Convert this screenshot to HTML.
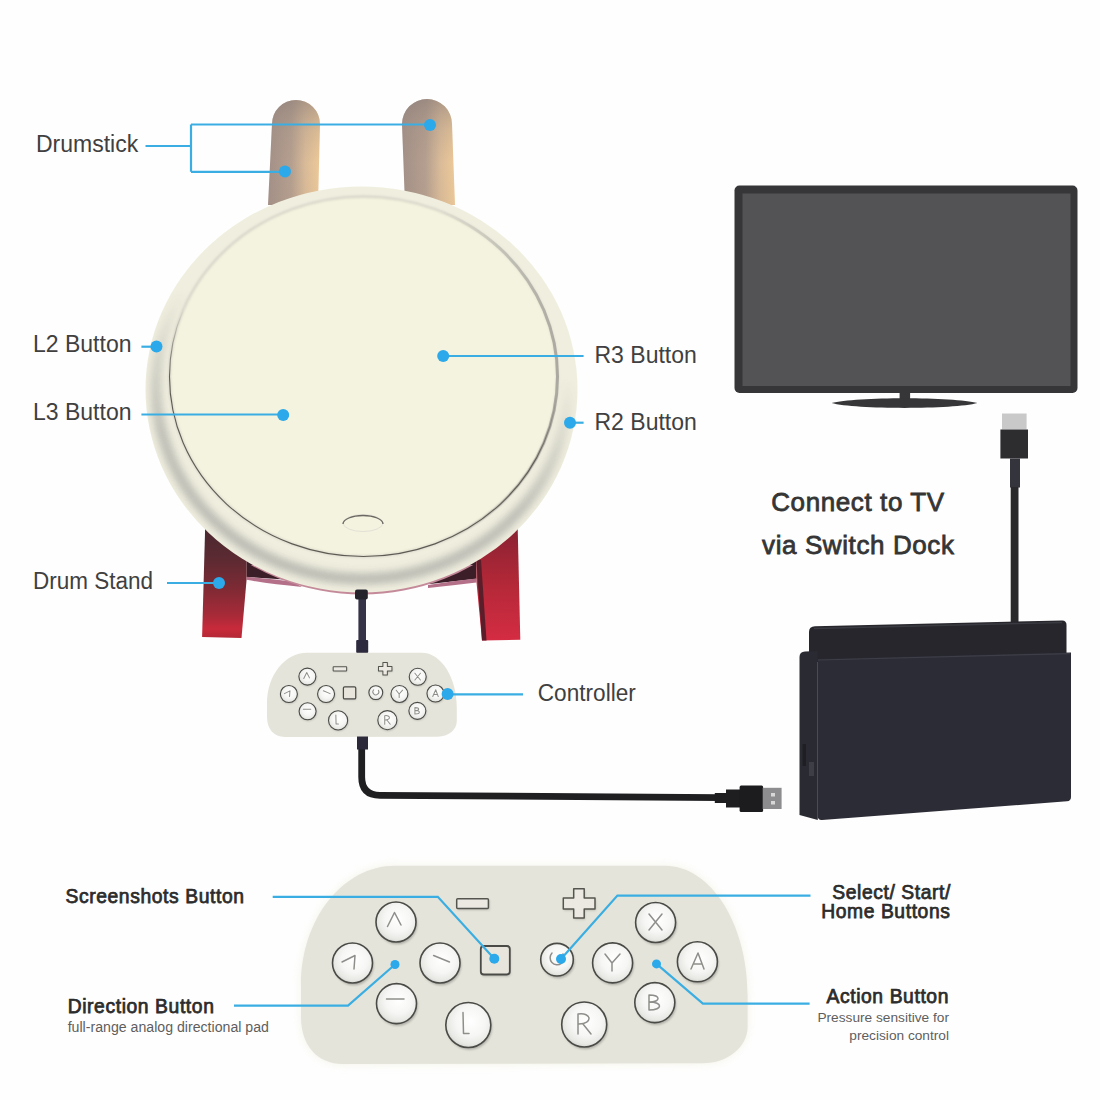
<!DOCTYPE html>
<html><head><meta charset="utf-8">
<style>
html,body{margin:0;padding:0;background:#fefefe;width:1100px;height:1100px;overflow:hidden}
svg{display:block}
text{font-family:"Liberation Sans",sans-serif}
</style></head><body>
<svg width="1100" height="1100" viewBox="0 0 1100 1100">
<defs>
  <linearGradient id="stick" x1="0" x2="1" y1="0" y2="0">
    <stop offset="0" stop-color="#a39088"/>
    <stop offset="0.45" stop-color="#b6a090"/>
    <stop offset="0.72" stop-color="#dcbd9a"/>
    <stop offset="1" stop-color="#f2cd9a"/>
  </linearGradient>
  <linearGradient id="standL" x1="0" x2="0" y1="525" y2="638" gradientUnits="userSpaceOnUse">
    <stop offset="0" stop-color="#4a2430"/>
    <stop offset="0.35" stop-color="#6e2a36"/>
    <stop offset="0.7" stop-color="#a82a3a"/>
    <stop offset="1" stop-color="#d02a40"/>
  </linearGradient>
  <linearGradient id="standR" x1="0" x2="0" y1="530" y2="640" gradientUnits="userSpaceOnUse">
    <stop offset="0" stop-color="#8a2434"/>
    <stop offset="0.5" stop-color="#b02838"/>
    <stop offset="1" stop-color="#d42c42"/>
  </linearGradient>
  <clipPath id="outerClip"><ellipse cx="361.5" cy="389.5" rx="216" ry="203"/></clipPath>
  <filter id="blur4" x="-20%" y="-20%" width="140%" height="140%"><feGaussianBlur stdDeviation="4"/></filter>
  <filter id="blur2" x="-20%" y="-20%" width="140%" height="140%"><feGaussianBlur stdDeviation="1.5"/></filter>
  <filter id="blur1" x="-30%" y="-30%" width="160%" height="160%"><feGaussianBlur stdDeviation="1"/></filter>
  <filter id="blurS" x="-30%" y="-30%" width="160%" height="160%"><feGaussianBlur stdDeviation="0.5"/></filter>
  <linearGradient id="shadeGrad" x1="250" y1="600" x2="330" y2="250" gradientUnits="userSpaceOnUse">
    <stop offset="0" stop-color="#fff"/>
    <stop offset="0.4" stop-color="#e6e6e6"/>
    <stop offset="0.6" stop-color="#808080"/>
    <stop offset="0.8" stop-color="#000"/>
  </linearGradient>
  <linearGradient id="darkLineGrad" x1="250" y1="600" x2="330" y2="250" gradientUnits="userSpaceOnUse">
    <stop offset="0" stop-color="#fff"/>
    <stop offset="0.55" stop-color="#fff"/>
    <stop offset="0.75" stop-color="#000"/>
  </linearGradient>
  <mask id="darkLineMask" maskUnits="userSpaceOnUse" x="0" y="0" width="1100" height="1100">
    <rect x="0" y="0" width="1100" height="1100" fill="url(#darkLineGrad)"/>
  </mask>
  <linearGradient id="rightLineGrad" x1="440" y1="0" x2="560" y2="0" gradientUnits="userSpaceOnUse">
    <stop offset="0" stop-color="#aaa8a0" stop-opacity="0"/>
    <stop offset="1" stop-color="#aaa8a0" stop-opacity="1"/>
  </linearGradient>
  <mask id="shadeMask" maskUnits="userSpaceOnUse" x="0" y="0" width="1100" height="1100">
    <rect x="0" y="0" width="1100" height="1100" fill="url(#shadeGrad)"/>
  </mask>
  <radialGradient id="btnFill" cx="0.55" cy="0.42" r="0.6">
    <stop offset="0" stop-color="#ffffff"/>
    <stop offset="0.55" stop-color="#f6f6f4"/>
    <stop offset="0.85" stop-color="#e8e8e5"/>
    <stop offset="1" stop-color="#d4d4d0"/>
  </radialGradient>
</defs>

<defs>
  <linearGradient id="stickTop" x1="0" x2="0" y1="0" y2="1">
    <stop offset="0" stop-color="#8a7c78" stop-opacity="0.6"/>
    <stop offset="0.3" stop-color="#9a8a80" stop-opacity="0.25"/>
    <stop offset="0.6" stop-color="#a08c7a" stop-opacity="0.05"/>
    <stop offset="1" stop-color="#a08c7a" stop-opacity="0.1"/>
  </linearGradient>
</defs>
<path d="M268,205 L272,124 A24,24 0 0 1 320,124 L318,205 Z" fill="url(#stick)"/>
<path d="M268,205 L272,124 A24,24 0 0 1 320,124 L318,205 Z" fill="url(#stickTop)"/>
<path d="M405,205 L402,124 A25,25 0 0 1 452,124 L455,205 Z" fill="url(#stick)"/>
<path d="M405,205 L402,124 A25,25 0 0 1 452,124 L455,205 Z" fill="url(#stickTop)"/>

<defs>
  <linearGradient id="standL2" x1="0" x2="0" y1="525" y2="638" gradientUnits="userSpaceOnUse">
    <stop offset="0" stop-color="#48282e"/>
    <stop offset="0.3" stop-color="#5c2a32"/>
    <stop offset="0.55" stop-color="#7c2a34"/>
    <stop offset="0.8" stop-color="#a82a38"/>
    <stop offset="0.92" stop-color="#c82a3a"/>
    <stop offset="1" stop-color="#b42836"/>
  </linearGradient>
  <linearGradient id="standR2" x1="0" x2="0" y1="530" y2="640" gradientUnits="userSpaceOnUse">
    <stop offset="0" stop-color="#8a2232"/>
    <stop offset="0.5" stop-color="#b42838"/>
    <stop offset="1" stop-color="#d42c42"/>
  </linearGradient>
</defs>
<path d="M225,520 L300,555 L292,580 L246.6,577 L246.6,545 Z" fill="#3c1e28"/>
<path d="M205.3,522 L246.6,540 L246.6,579.4 L241.5,638 L202.1,637 Z" fill="url(#standL2)"/>
<path d="M246.6,576.8 Q268,578.5 292,581.5 L302,587 Q270,584 246.6,579.8 Z" fill="#b47088"/>
<path d="M420,560 L476.4,550 L476.4,578.7 L430,584 Z" fill="#3c1e28"/>
<path d="M476.4,540 L517.7,528 L520.3,639.8 L482,640.5 L476.4,581 Z" fill="url(#standR2)"/>
<path d="M476.4,560 L482,640.5 L486.5,640.5 L481,560 Z" fill="#5a1e2a"/>
<path d="M428,585 Q452,581 476.4,578.5 L476.4,582.5 Q452,585.5 428,588 Z" fill="#b47088"/>
<clipPath id="pinkClip"><rect x="240" y="565" width="250" height="40"/></clipPath>
<ellipse cx="362" cy="392" rx="214" ry="202.5" fill="#c48a9a" clip-path="url(#pinkClip)"/>

<ellipse cx="361.5" cy="389.5" rx="216" ry="203" fill="#f0efdf"/>
<g clip-path="url(#outerClip)">
  <g mask="url(#shadeMask)">
    <ellipse cx="362" cy="387" rx="206" ry="192" fill="none" stroke="#a8a8a4" stroke-width="10" filter="url(#blur4)" opacity="0.85"/>
  </g>
</g>
<ellipse cx="363.5" cy="376.5" rx="194" ry="180" fill="#f4f3df"/>
<defs>
  <linearGradient id="innerLine" x1="170" y1="400" x2="560" y2="330" gradientUnits="userSpaceOnUse">
    <stop offset="0" stop-color="#5e5b54"/>
    <stop offset="0.45" stop-color="#66635c"/>
    <stop offset="0.6" stop-color="#a8a69e"/>
    <stop offset="0.8" stop-color="#c8c6be"/>
    <stop offset="1" stop-color="#b8b6ae"/>
  </linearGradient>
  <linearGradient id="innerSoft" x1="170" y1="400" x2="560" y2="330" gradientUnits="userSpaceOnUse">
    <stop offset="0" stop-color="#c8c6be" stop-opacity="0"/>
    <stop offset="0.5" stop-color="#c8c6be" stop-opacity="0"/>
    <stop offset="0.6" stop-color="#c4c2ba" stop-opacity="0.6"/>
    <stop offset="0.85" stop-color="#aeaca4" stop-opacity="1"/>
    <stop offset="1" stop-color="#a8a69e" stop-opacity="1"/>
  </linearGradient>
</defs>
<ellipse cx="363.5" cy="376.5" rx="194" ry="180" fill="none" stroke="#c6c4bc" stroke-width="2.6" filter="url(#blur1)" opacity="0.6"/>
<ellipse cx="363.5" cy="376.5" rx="194" ry="180" fill="none" stroke="url(#rightLineGrad)" stroke-width="3" filter="url(#blurS)"/>
<ellipse cx="363.5" cy="376.5" rx="194" ry="180" fill="none" stroke="#5e5b54" stroke-width="1.1" mask="url(#darkLineMask)"/>
<ellipse cx="363" cy="523" rx="20" ry="8.5" fill="none" stroke="#dddbd2" stroke-width="0.8"/>
<path d="M343,524 A20,8.5 0 0 1 383,524" fill="none" stroke="#6a6862" stroke-width="1.3"/>

<rect x="358.4" y="598" width="7.6" height="44" fill="#363248"/>
<rect x="355" y="589.5" width="12.8" height="10" rx="2" fill="#24232c"/>
<rect x="356.2" y="640" width="12" height="13" rx="1" fill="#2c2a3c"/>

<!-- small controller -->
<path d="M306.95,652.67 L421.7,652.67 C441.08,652.67 456.81,677.28 456.81,707.62 L456.81,721.22 C456.81,729.68 448.31,736.65 437.72,736.65 L284.85,736.95 C273.8,736.95 267,728.88 267,716.97 L267,703.38 C267,675.32 284.85,652.67 306.95,652.67 Z" fill="#e5e4da"/>
<circle cx="307.88" cy="677.53" r="8.5" fill="#6a6a66" opacity="0.45" filter="url(#blur1)"/><circle cx="307.38" cy="676.6" r="8.5" fill="url(#btnFill)" stroke="#4a4a47" stroke-width="1.09"/>
<circle cx="289.4" cy="694.96" r="8.5" fill="#6a6a66" opacity="0.45" filter="url(#blur1)"/><circle cx="288.89" cy="694.02" r="8.5" fill="url(#btnFill)" stroke="#4a4a47" stroke-width="1.09"/>
<circle cx="326.58" cy="694.96" r="8.5" fill="#6a6a66" opacity="0.45" filter="url(#blur1)"/><circle cx="326.07" cy="694.02" r="8.5" fill="url(#btnFill)" stroke="#4a4a47" stroke-width="1.09"/>
<circle cx="308.1" cy="712.21" r="8.5" fill="#6a6a66" opacity="0.45" filter="url(#blur1)"/><circle cx="307.59" cy="711.28" r="8.5" fill="url(#btnFill)" stroke="#4a4a47" stroke-width="1.09"/>
<circle cx="338.61" cy="721.31" r="9.56" fill="#6a6a66" opacity="0.45" filter="url(#blur1)"/><circle cx="338.1" cy="720.38" r="9.56" fill="url(#btnFill)" stroke="#4a4a47" stroke-width="1.09"/>
<circle cx="376.31" cy="693.56" r="6.93" fill="#6a6a66" opacity="0.45" filter="url(#blur1)"/><circle cx="375.8" cy="692.62" r="6.93" fill="url(#btnFill)" stroke="#4a4a47" stroke-width="1.09"/>
<circle cx="399.94" cy="694.92" r="8.5" fill="#6a6a66" opacity="0.45" filter="url(#blur1)"/><circle cx="399.43" cy="693.98" r="8.5" fill="url(#btnFill)" stroke="#4a4a47" stroke-width="1.09"/>
<circle cx="418.22" cy="677.75" r="8.5" fill="#6a6a66" opacity="0.45" filter="url(#blur1)"/><circle cx="417.71" cy="676.81" r="8.5" fill="url(#btnFill)" stroke="#4a4a47" stroke-width="1.09"/>
<circle cx="435.98" cy="694.45" r="8.5" fill="#6a6a66" opacity="0.45" filter="url(#blur1)"/><circle cx="435.47" cy="693.51" r="8.5" fill="url(#btnFill)" stroke="#4a4a47" stroke-width="1.09"/>
<circle cx="417.88" cy="711.79" r="8.5" fill="#6a6a66" opacity="0.45" filter="url(#blur1)"/><circle cx="417.37" cy="710.86" r="8.5" fill="url(#btnFill)" stroke="#4a4a47" stroke-width="1.09"/>
<circle cx="387.87" cy="721.1" r="9.56" fill="#6a6a66" opacity="0.45" filter="url(#blur1)"/><circle cx="387.36" cy="720.16" r="9.56" fill="url(#btnFill)" stroke="#4a4a47" stroke-width="1.09"/>
<g fill="none" stroke="#8e8e8a" stroke-width="1.02" stroke-linecap="round" stroke-linejoin="round"><path d="M303.76,678.51 L306.74,672.56 L309.5,677.88"/><path d="M284.43,693.6 L289.95,690.84 L289.52,696.57"/><path d="M323.36,690.84 L330.11,693.6"/><path d="M303.34,709.32 L310.77,709.32"/><path d="M335.85,715.06 L336.06,723.99 L338.4,723.99"/><path d="M384.73,724.2 L384.73,715.7 M384.73,715.7 C390.68,714.85 391.1,719.95 385.15,719.95 M386.85,719.95 L390.25,724.2"/><path d="M396.2,690.2 L399.17,694.02 L402.57,690.2 M399.17,694.02 L399.17,697.42"/><path d="M414.9,673.2 L420.42,680 M420.42,673.2 L414.9,680"/><path d="M432.75,696.57 L435.73,689.77 L438.27,696.57 M433.81,694.45 L437.42,694.45"/><path d="M414.9,714 L414.9,707.62 C420,707.62 420,710.6 414.9,710.6 C420.85,710.6 420.85,714 414.9,714 Z M414.9,710.6 C417.45,710.6 417.45,710.6 417.45,710.6"/><path d="M373.68,689.77 A2.98,2.98 0 1 0 378.35,690.2"/></g>
<rect x="343.71" y="687.44" width="12.32" height="12.32" rx="1.27" fill="#6a6a66" opacity="0.35" filter="url(#blur1)"/>
<rect x="343.42" y="686.8" width="12.32" height="12.11" rx="1.27" fill="#e8e6dc" stroke="#4a4a47" stroke-width="1.22"/>
<rect x="333.51" y="667.25" width="13.6" height="4.25" fill="#6a6a66" opacity="0.35" filter="url(#blur1)"/>
<rect x="333.17" y="666.74" width="13.47" height="4.17" rx="0.42" fill="#ebe9e2" stroke="#55554f" stroke-width="1.02"/>
<path d="M382.9,662.45 h4.46 v3.95 h4.59 v4.67 h-4.59 v3.82 h-4.46 v-3.82 h-4.42 v-4.67 h4.42 z" fill="#6a6a66" opacity="0.35" filter="url(#blur1)" transform="translate(0.34,0.64)"/>
<path d="M382.9,662.45 h4.46 v3.95 h4.59 v4.67 h-4.59 v3.82 h-4.46 v-3.82 h-4.42 v-4.67 h4.42 z" fill="#ebe9e2" stroke="#55554f" stroke-width="1.02" stroke-linejoin="round"/>
<path d="M361.7,745 L361.7,777 Q361.7,795.3 380,795.3 L720,797.6" fill="none" stroke="#1f1f22" stroke-width="6.8"/>
<rect x="357" y="736.5" width="11" height="13" fill="#2c2a3a"/>
<rect x="714.8" y="793" width="11.5" height="10" fill="#1e1e20"/>
<rect x="726" y="789.5" width="14" height="18" fill="#1e1e20"/>
<rect x="739.6" y="785.4" width="23.5" height="26.6" rx="1.5" fill="#1c1c1e"/>
<rect x="762.7" y="787.8" width="18.9" height="21.2" fill="#8d8c8f"/>
<rect x="771" y="793" width="4" height="3.5" fill="#d8d8d8"/>
<rect x="771" y="801" width="4" height="3.5" fill="#d8d8d8"/>

<rect x="734.5" y="185.5" width="343" height="207.5" rx="5" fill="#363638"/>
<rect x="742.5" y="193.5" width="328" height="192.5" fill="#535355"/>
<rect x="899.6" y="392" width="10.5" height="8" fill="#363638"/>
<path d="M831.5,403 C855,396.5 954,396.5 977.5,403 C954,409.5 855,409.5 831.5,403 Z" fill="#363638"/>

<rect x="1002" y="413.5" width="24.6" height="16" fill="#c9c9c9"/>
<rect x="1000.4" y="429.5" width="27.6" height="29" fill="#2d2d30"/>
<rect x="1010" y="458.5" width="10" height="29" fill="#34343c"/>
<rect x="1010.7" y="487" width="7.8" height="136" fill="#29292c"/>

<path d="M809,650 L809,632 Q809,626.5 815,626.3 L1062,620.4 Q1066.5,620.3 1066.5,625 L1066.5,662 L809,662 Z" fill="#26262c"/>
<path d="M814,628.5 L1062,622.5" stroke="#3a3a42" stroke-width="1.4" fill="none"/>
<path d="M799.5,815 L799.5,657 Q799.5,651.5 805,651.4 L817.8,651 L817.8,820 Z" fill="#2a2a33"/>
<path d="M817.8,659 L1071,652.4 L1071,797 Q1071,801 1067,801.3 L822,820 Q817.8,820.3 817.8,816 Z" fill="#2c2c36"/>
<path d="M818,660 L1070,653.6" stroke="#3e3e48" stroke-width="1.2" fill="none"/>
<rect x="802.5" y="744" width="3.5" height="22" fill="#1e1e24"/>
<rect x="809" y="762" width="5" height="14" fill="#3e3e46"/>

<!-- big controller -->
<path d="M395,865.7 L665,865.7 C710.6,865.7 747.6,923.6 747.6,995 L747.6,1027 C747.6,1046.9 727.6,1063.3 702.7,1063.3 L343,1064 C317,1064 301,1045 301,1017 L301,985 C301,919 343,865.7 395,865.7 Z" fill="#efeede" opacity="0.7" filter="url(#blur4)"/>
<path d="M395,865.7 L665,865.7 C710.6,865.7 747.6,923.6 747.6,995 L747.6,1027 C747.6,1046.9 727.6,1063.3 702.7,1063.3 L343,1064 C317,1064 301,1045 301,1017 L301,985 C301,919 343,865.7 395,865.7 Z" fill="#e5e4da"/>
<circle cx="397.2" cy="924.2" r="20" fill="#6a6a66" opacity="0.45" filter="url(#blur1)"/><circle cx="396" cy="922" r="20" fill="url(#btnFill)" stroke="#4a4a47" stroke-width="1.6"/>
<circle cx="353.7" cy="965.2" r="20" fill="#6a6a66" opacity="0.45" filter="url(#blur1)"/><circle cx="352.5" cy="963" r="20" fill="url(#btnFill)" stroke="#4a4a47" stroke-width="1.6"/>
<circle cx="441.2" cy="965.2" r="20" fill="#6a6a66" opacity="0.45" filter="url(#blur1)"/><circle cx="440" cy="963" r="20" fill="url(#btnFill)" stroke="#4a4a47" stroke-width="1.6"/>
<circle cx="397.7" cy="1005.8" r="20" fill="#6a6a66" opacity="0.45" filter="url(#blur1)"/><circle cx="396.5" cy="1003.6" r="20" fill="url(#btnFill)" stroke="#4a4a47" stroke-width="1.6"/>
<circle cx="469.5" cy="1027.2" r="22.5" fill="#6a6a66" opacity="0.45" filter="url(#blur1)"/><circle cx="468.3" cy="1025" r="22.5" fill="url(#btnFill)" stroke="#4a4a47" stroke-width="1.6"/>
<circle cx="558.2" cy="961.9" r="16.3" fill="#6a6a66" opacity="0.45" filter="url(#blur1)"/><circle cx="557" cy="959.7" r="16.3" fill="url(#btnFill)" stroke="#4a4a47" stroke-width="1.6"/>
<circle cx="613.8" cy="965.1" r="20" fill="#6a6a66" opacity="0.45" filter="url(#blur1)"/><circle cx="612.6" cy="962.9" r="20" fill="url(#btnFill)" stroke="#4a4a47" stroke-width="1.6"/>
<circle cx="656.8" cy="924.7" r="20" fill="#6a6a66" opacity="0.45" filter="url(#blur1)"/><circle cx="655.6" cy="922.5" r="20" fill="url(#btnFill)" stroke="#4a4a47" stroke-width="1.6"/>
<circle cx="698.6" cy="964" r="20" fill="#6a6a66" opacity="0.45" filter="url(#blur1)"/><circle cx="697.4" cy="961.8" r="20" fill="url(#btnFill)" stroke="#4a4a47" stroke-width="1.6"/>
<circle cx="656" cy="1004.8" r="20" fill="#6a6a66" opacity="0.45" filter="url(#blur1)"/><circle cx="654.8" cy="1002.6" r="20" fill="url(#btnFill)" stroke="#4a4a47" stroke-width="1.6"/>
<circle cx="585.4" cy="1026.7" r="22.5" fill="#6a6a66" opacity="0.45" filter="url(#blur1)"/><circle cx="584.2" cy="1024.5" r="22.5" fill="url(#btnFill)" stroke="#4a4a47" stroke-width="1.6"/>
<g fill="none" stroke="#8e8e8a" stroke-width="1.5" stroke-linecap="round" stroke-linejoin="round"><path d="M387.5,926.5 L394.5,912.5 L401,925"/><path d="M342,962 L355,955.5 L354,969"/><path d="M433.6,955.5 L449.5,962"/><path d="M386.5,999 L404,999"/><path d="M463,1012.5 L463.5,1033.5 L469,1033.5"/><path d="M578,1034 L578,1014 M578,1014 C592,1012 593,1024 579,1024 M583,1024 L591,1034"/><path d="M605,954 L612,963 L620,954 M612,963 L612,971"/><path d="M649,914 L662,930 M662,914 L649,930"/><path d="M691,969 L698,953 L704,969 M693.5,964 L702,964"/><path d="M649,1010 L649,995 C661,995 661,1002 649,1002 C663,1002 663,1010 649,1010 Z M649,1002 C655,1002 655,1002 655,1002"/><path d="M552,953 A7,7 0 1 0 563,954"/></g>
<rect x="481.5" y="947.5" width="29" height="29" rx="3" fill="#6a6a66" opacity="0.35" filter="url(#blur1)"/>
<rect x="480.8" y="946" width="29" height="28.5" rx="3" fill="#e8e6dc" stroke="#4a4a47" stroke-width="1.8"/>
<rect x="457.5" y="900" width="32" height="10" fill="#6a6a66" opacity="0.35" filter="url(#blur1)"/>
<rect x="456.7" y="898.8" width="31.7" height="9.8" rx="1" fill="#ebe9e2" stroke="#55554f" stroke-width="1.5"/>
<path d="M573.7,888.7 h10.5 v9.3 h10.8 v11 h-10.8 v9 h-10.5 v-9 h-10.4 v-11 h10.4 z" fill="#6a6a66" opacity="0.35" filter="url(#blur1)" transform="translate(0.8,1.5)"/>
<path d="M573.7,888.7 h10.5 v9.3 h10.8 v11 h-10.8 v9 h-10.5 v-9 h-10.4 v-11 h10.4 z" fill="#ebe9e2" stroke="#55554f" stroke-width="1.5" stroke-linejoin="round"/>
<g fill="none" stroke="#3aaee2" stroke-width="2.2">
  <path d="M145.5,146 H191 M191,124.5 V171.8 M191,124.5 H430 M191,171.8 H285"/>
  <path d="M141.4,346.7 H157"/>
  <path d="M141.4,414.5 H283"/>
  <path d="M443,356 H583.6"/>
  <path d="M569.5,422.7 H583.6"/>
  <path d="M167,583 H219"/>
  <path d="M447.6,694.3 H523"/>
  <path d="M272.7,896.8 H437.8 L494.3,958.7"/>
  <path d="M234,1005.7 H348 L395,964.5"/>
  <path d="M561,959 L617.4,895.6 H810.5"/>
  <path d="M656.5,963.9 L702.9,1003.6 H809.6"/>
</g>
<g fill="#2ba9ea">
  <circle cx="430" cy="125" r="6"/>
  <circle cx="285" cy="171.5" r="6"/>
  <circle cx="156.5" cy="346.5" r="6"/>
  <circle cx="283.2" cy="414.9" r="6"/>
  <circle cx="443.2" cy="355.9" r="6"/>
  <circle cx="570" cy="422.7" r="6"/>
  <circle cx="219" cy="583" r="6"/>
  <circle cx="447.6" cy="694" r="6"/>
  <circle cx="494.3" cy="958.7" r="5"/>
  <circle cx="395" cy="964.5" r="4.5"/>
  <circle cx="561" cy="959" r="5"/>
  <circle cx="656.5" cy="963.9" r="4.5"/>
</g>

<g font-size="23" fill="#404040">
  <text x="36" y="152">Drumstick</text>
  <text x="33" y="352.2">L2 Button</text>
  <text x="33" y="419.5">L3 Button</text>
  <text x="594.5" y="363.3">R3 Button</text>
  <text x="594.5" y="429.5">R2 Button</text>
  <text x="33" y="588.5" textLength="120" lengthAdjust="spacingAndGlyphs">Drum Stand</text>
  <text x="537.8" y="701.3" textLength="98" lengthAdjust="spacingAndGlyphs">Controller</text>
</g>
<g font-size="26" fill="#353535" stroke="#353535" stroke-width="0.8" letter-spacing="0.6" text-anchor="middle">
  <text id="t1" x="858" y="510.5">Connect to TV</text>
  <text id="t2" x="858.3" y="554">via Switch Dock</text>
</g>
<g font-size="19.3" fill="#2c2c2c" stroke="#2c2c2c" stroke-width="0.75" letter-spacing="0.6">
  <text id="t3" x="65.5" y="903">Screenshots Button</text>
  <text id="t4" x="67.7" y="1012.7">Direction Button</text>
</g>
<g font-size="19.3" fill="#2c2c2c" stroke="#2c2c2c" stroke-width="0.75" letter-spacing="0.6" text-anchor="end">
  <text id="t5" x="951" y="898.6">Select/ Start/</text>
  <text id="t6" x="950.5" y="918.3">Home Buttons</text>
  <text id="t7" x="949" y="1002.6">Action Button</text>
</g>
<g font-size="14.15" fill="#5e5e5e">
  <text id="t8" x="67.7" y="1031.8">full-range analog directional pad</text>
</g>
<g font-size="13.7" fill="#5e5e5e" text-anchor="end">
  <text id="t9" x="949" y="1022.2">Pressure sensitive for</text>
  <text id="t10" x="949" y="1040.2">precision control</text>
</g>
</svg>
</body></html>
